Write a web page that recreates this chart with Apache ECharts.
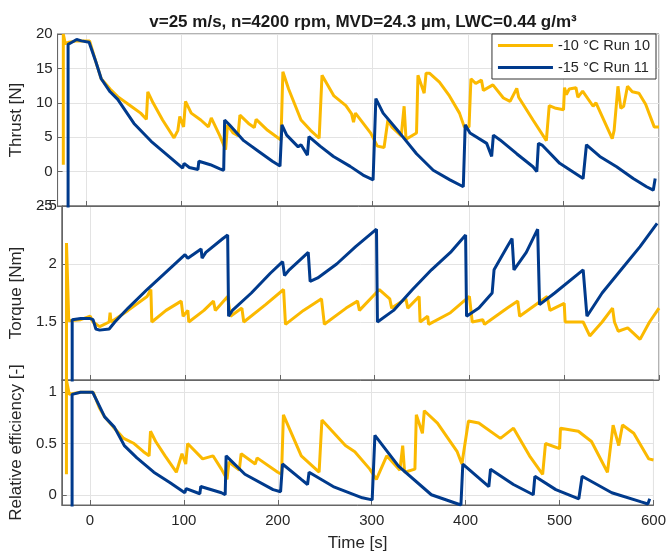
<!DOCTYPE html>
<html>
<head>
<meta charset="utf-8">
<script src="https://cdn.jsdelivr.net/npm/echarts@6/dist/echarts.min.js"></script>
<style>
  html, body { margin: 0; padding: 0; background: #fff; }
  #chart { width: 669px; height: 553px; }
</style>
</head>
<body>
<div id="chart"></div>
<script>
// time ticks shared by the three panels
const timeTicks = [0, 100, 200, 300, 400, 500, 600];
const effTicks = [0, 0.5, 1];
const seriesNames = ['-10 °C Run 10', '-15 °C Run 11'];

// thrust [N], [time, value]
const thrustYellow = [[-24,1.0],[-24,20],[-22,18.6],[-18,18.8],[-10,19.0],[0,19.0],[3.5,19.0],[10,16],[15.7,13.5],[25,12],[33,10.9],[47,9.5],[57,8.5],[63,7.6],[64.5,11.6],[70,10],[80,7.5],[92,4.9],[96,6],[98,8.0],[102,6.5],[104,10.2],[110,8.5],[120,7.5],[128,6.5],[131,7.8],[140,5.2],[146,3.2],[148,6.8],[154,5.6],[159,5.2],[161,8.2],[170,7.0],[176,6.4],[178,7.6],[190,6.0],[200,5.0],[204,4.6],[206,14.5],[212,12],[225,7.5],[235,6],[244,4.85],[247,14.0],[259.5,11.0],[272,9.6],[278,8.4],[280,7.2],[282,8.5],[298,5.6],[305,3.7],[312,3.5],[316,7.5],[320,6.5],[330,5.2],[333,9.5],[335,4.7],[346,5.6],[347.5,14.0],[354,11.4],[356,14.3],[359.5,14.3],[370,13],[380.5,11.0],[391,8.5],[396,6.5],[401,6.5],[403,13.5],[408,12.8],[414,13.3],[416,11.8],[426,12.6],[437,10.7],[444,10.2],[451,12.1],[453,10.8],[468,7.5],[482,4.5],[485,9.6],[492,9.2],[500,9],[501,12.2],[503,11.2],[506,12.0],[513,12.2],[515,10.8],[520,11.7],[531,9.5],[534,10.0],[551,4.8],[553,6],[557,12.4],[560,9.2],[563,9.5],[567,12.4],[572,11.6],[579,11.4],[586,9.8],[595,6.5],[600,6.5]];
const thrustBlue = [[-19,-6],[-19,18.5],[-15,18.8],[-10,19.2],[-5,19],[3,18.8],[10,16],[15.7,13.5],[25,11.6],[33,10.5],[50,7.0],[68,4.4],[85,2.4],[101,0.5],[102.5,1.2],[108,0.6],[117,0.3],[118,1.5],[130,1.0],[140,0.4],[144,0.2],[145,7.5],[150,6.8],[165,4.5],[180,3.0],[195,1.5],[203,0.8],[205,6.8],[210,5.3],[222,3.6],[225,3.9],[231.7,2.4],[233.3,5.1],[245,3.7],[259,2.2],[276.5,0.76],[290,-0.5],[300.5,-1.2],[303.4,10.6],[311,8.5],[328.5,5.6],[346,2.6],[363.5,0.2],[381,-1.2],[395,-2.2],[397,6.8],[402,5.6],[419.5,4.1],[424.7,2.2],[426.5,5.3],[433.5,4.6],[450.9,2.6],[468,0.7],[472,0.0],[473.7,4.1],[478,3.8],[496,1.2],[520.5,-1.0],[524,3.9],[538,2.2],[555.6,0.7],[573,-1.0],[587,-2.2],[594,-2.7],[596,-1.0]];

// torque [Nm]
const torqueYellow = [[-25,0.9],[-25,2.18],[-22.6,1.51],[-10,1.52],[0,1.55],[3,1.5],[10,1.46],[20,1.5],[21,1.58],[22,1.5],[40,1.6],[60,1.72],[64,1.78],[65,1.5],[80,1.6],[96,1.68],[98,1.55],[103,1.6],[104,1.5],[120,1.6],[130,1.68],[132,1.6],[145,1.72],[148,1.55],[160,1.62],[162,1.5],[185,1.65],[204,1.78],[206,1.48],[225,1.6],[244,1.7],[247,1.48],[270,1.62],[282,1.68],[284,1.6],[305,1.78],[316,1.7],[318,1.62],[333,1.7],[335,1.62],[347,1.72],[348,1.5],[356,1.55],[357,1.48],[380,1.58],[400,1.72],[403,1.5],[414,1.52],[416,1.48],[440,1.62],[451,1.68],[453,1.55],[482,1.72],[485,1.6],[500,1.66],[501,1.5],[520,1.5],[527,1.38],[540,1.5],[551,1.62],[553,1.5],[557,1.42],[567,1.45],[580,1.35],[590,1.5],[600,1.62]];
const torqueBlue = [[-19,0.9],[-19,1.52],[-10,1.53],[0,1.53],[3,1.52],[6,1.44],[10,1.43],[20,1.44],[26,1.5],[40,1.62],[60,1.78],[80,1.93],[100,2.08],[103,2.05],[117,2.13],[118,2.05],[122,2.1],[140,2.22],[145,2.25],[146,1.55],[150,1.6],[170,1.75],[190,1.92],[203,2.02],[205,1.9],[210,1.95],[230,2.1],[232,1.85],[240,1.88],[260,2.0],[280,2.15],[302,2.3],[303,1.5],[320,1.6],[340,1.78],[360,1.95],[380,2.1],[396,2.25],[397,1.55],[410,1.62],[424,1.75],[426,1.95],[440,2.15],[445,2.22],[447,1.95],[460,2.1],[472,2.3],[474,1.65],[490,1.75],[520,1.95],[524,1.55],[540,1.75],[560,1.95],[580,2.15],[598,2.35]];

// relative efficiency [-]
const effYellow = [[-25,0.2],[-25,1.12],[-22,0.98],[-10,1.0],[0,1.0],[3.5,1.0],[10,0.85],[15.7,0.76],[25,0.66],[36,0.55],[47,0.5],[57,0.42],[63,0.38],[64.5,0.62],[70,0.52],[80,0.38],[92,0.22],[98,0.4],[102,0.3],[104,0.5],[120,0.35],[131,0.38],[140,0.25],[146,0.15],[148,0.32],[159,0.24],[161,0.4],[176,0.3],[178,0.36],[200,0.22],[204,0.2],[206,0.78],[225,0.38],[244,0.22],[247,0.73],[272,0.48],[282,0.42],[298,0.25],[305,0.15],[316,0.38],[330,0.24],[333,0.48],[335,0.22],[346,0.25],[347.5,0.78],[354,0.6],[356,0.82],[370,0.7],[391,0.42],[396,0.3],[403,0.72],[414,0.7],[437,0.55],[451,0.65],[468,0.38],[482,0.2],[485,0.5],[500,0.45],[501,0.65],[520,0.62],[534,0.52],[551,0.22],[557,0.68],[563,0.48],[567,0.68],[579,0.6],[595,0.35],[600,0.34]];
const effBlue = [[-19,-0.2],[-19,0.98],[-10,1.0],[0,1.0],[3,1.0],[15.7,0.76],[26,0.66],[36.6,0.48],[50,0.36],[68,0.22],[85,0.12],[101,0.02],[102.5,0.06],[117,0.01],[118,0.08],[140,0.02],[144,0.0],[145,0.38],[165,0.2],[195,0.05],[203,0.03],[205,0.3],[225,0.15],[231.7,0.1],[233.3,0.22],[259,0.08],[290,-0.03],[300.5,-0.05],[303.4,0.58],[328.5,0.28],[363.5,0.0],[395,-0.1],[397,0.3],[424.7,0.08],[426.5,0.25],[450.9,0.1],[472,0.0],[473.7,0.18],[496,0.05],[520.5,-0.04],[524,0.18],[555.6,0.02],[587,-0.07],[594,-0.09],[596,-0.04]];

const colors = ['#FBB900', '#003A8C'];
const fontFamily = 'Liberation Sans, Arial, sans-serif';
const tickFont = { fontSize: 15, color: '#262626', fontFamily };
const nameFont = { fontSize: 17, color: '#262626', fontFamily };
const frame = '#666';

function xAxis(gridIndex, withLabels) {
  return {
    type: 'value', gridIndex, min: -30, max: 600,
    axisLine: { show: true, onZero: false, lineStyle: { color: frame } },
    axisTick: { show: true, inside: true, length: 5, customValues: timeTicks, lineStyle: { color: frame } },
    axisLabel: { show: withLabels, customValues: timeTicks, margin: 8, ...tickFont },
    splitLine: { show: true, lineStyle: { color: '#e3e3e3' } },
    name: withLabels ? 'Time [s]' : '',
    nameLocation: 'middle', nameGap: 30,
    nameTextStyle: nameFont
  };
}
function yAxis(gridIndex, name, gap, extra) {
  return Object.assign({
    type: 'value', gridIndex, name,
    nameLocation: 'middle', nameGap: gap,
    nameTextStyle: nameFont,
    axisLine: { show: true, onZero: false, lineStyle: { color: frame } },
    axisTick: { show: true, inside: true, length: 5, lineStyle: { color: frame } },
    axisLabel: { margin: 5, ...tickFont },
    splitLine: { show: true, lineStyle: { color: '#e3e3e3' } }
  }, extra);
}
function line(name, data, idx, color) {
  return {
    name, type: 'line', data, xAxisIndex: idx, yAxisIndex: idx,
    showSymbol: false, symbol: 'none', color,
    lineStyle: { width: 3, color }
  };
}

const chart = echarts.init(document.getElementById('chart'), null, { renderer: 'canvas' });
chart.setOption({
  animation: false,
  backgroundColor: '#fff',
  title: {
    text: 'v=25 m/s, n=4200 rpm, MVD=24.3 µm, LWC=0.44 g/m³',
    left: 358, top: 9, textAlign: 'center',
    textStyle: { fontSize: 17, fontWeight: 'bold', color: '#1a1a1a', fontFamily }
  },
  legend: {
    data: seriesNames, orient: 'vertical', right: 13, top: 34,
    backgroundColor: '#fff', borderColor: '#333', borderWidth: 1,
    padding: [4, 6, 4, 6], itemGap: 7, itemWidth: 55, itemHeight: 3, icon: 'rect',
    textStyle: { fontSize: 14.5, color: '#262626', fontFamily }
  },
  grid: [
    { left: 57, right: 10, top: 34, height: 172, show: true, borderColor: frame, borderWidth: 1 },
    { left: 57, right: 10, top: 206, height: 174, show: true, borderColor: frame, borderWidth: 1 },
    { left: 57, right: 10, top: 380, height: 126, show: true, borderColor: frame, borderWidth: 1 }
  ],
  xAxis: [xAxis(0, false), xAxis(1, false), xAxis(2, true)],
  yAxis: [
    yAxis(0, 'Thrust [N]', 18, { min: -5, max: 20, interval: 5 }),
    yAxis(1, 'Torque [Nm]', 23, { min: 1, max: 2.5, interval: 0.5, axisLabel: { margin: 5, showMinLabel: false, ...tickFont } }),
    yAxis(2, 'Relative efficiency [-]', 24, {
      min: -0.1, max: 1.12,
      axisTick: { show: true, inside: true, length: 5, customValues: effTicks, lineStyle: { color: frame } },
      axisLabel: { margin: 5, customValues: effTicks, ...tickFont }
    })
  ],
  series: [
    line(seriesNames[0], thrustYellow, 0, colors[0]),
    line(seriesNames[1], thrustBlue, 0, colors[1]),
    line(seriesNames[0], torqueYellow, 1, colors[0]),
    line(seriesNames[1], torqueBlue, 1, colors[1]),
    line(seriesNames[0], effYellow, 2, colors[0]),
    line(seriesNames[1], effBlue, 2, colors[1])
  ]
});
window.addEventListener('resize', function () { chart.resize(); });
</script>
</body>
</html>
